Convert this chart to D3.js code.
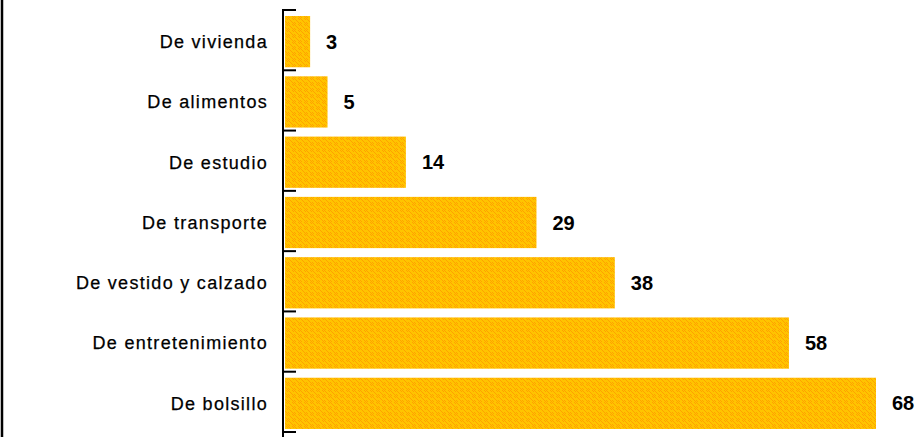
<!DOCTYPE html>
<html>
<head>
<meta charset="utf-8">
<script src="https://cdn.jsdelivr.net/npm/d3@7"></script>
<style>
  body { margin: 0; background: #fff; }
  svg { display: block; }
  .cat { font-family: "Liberation Sans", Arial, sans-serif; font-size: 18px; letter-spacing: 1.3px; fill: #000; stroke: #000; stroke-width: 0.25px; }
  .val { font-family: "Liberation Sans", Arial, sans-serif; font-size: 20px; font-weight: bold; fill: #000; }
</style>
</head>
<body>
<div id="chart"></div>
<script>
// gastos, in the order they appear top to bottom
var categories = ["De vivienda", "De alimentos", "De estudio", "De transporte",
                  "De vestido y calzado", "De entretenimiento", "De bolsillo"];
var values = [3, 5, 14, 29, 38, 58, 68];

var width = 919, height = 437;

var svg = d3.select('#chart').append('svg')
  .attr('width', width)
  .attr('height', height);

// dithered yellow/orange fill like the original gif
var pat = svg.append('defs').append('pattern')
  .attr('id', 'dither')
  .attr('width', 6)
  .attr('height', 6)
  .attr('patternUnits', 'userSpaceOnUse');
pat.append('rect').attr('width', 6).attr('height', 6).attr('fill', '#ffc400');
[[0,0],[2,2],[4,0],[0,4],[4,4],[3,3],[1,1],[5,5],[1,5],[5,1]].forEach(function(p) {
  pat.append('rect').attr('x', p[0]).attr('y', p[1]).attr('width', 1).attr('height', 1).attr('fill', '#ffa200');
});

var x = d3.scaleLinear()
  .domain([0, d3.max(values)])
  .range([284, 876]);

var y = d3.scaleBand()
  .domain(categories)
  .range([10, 432])
  .paddingInner(0.15)
  .paddingOuter(0.075);

var data = categories.map(function(c, i) { return { cat: c, v: values[i] }; });

// left frame line
svg.append('line')
  .attr('x1', 2).attr('x2', 2)
  .attr('y1', 0).attr('y2', height)
  .attr('stroke', '#000')
  .attr('stroke-width', 2.5);

svg.selectAll('rect.bar')
  .data(data)
  .enter().append('rect')
  .attr('class', 'bar')
  .attr('x', x(0) + 1)
  .attr('y', function(d) { return y(d.cat) + 1.5; })
  .attr('width', function(d) { return x(d.v) - x(0) - 1; })
  .attr('height', y.bandwidth())
  .attr('fill', 'url(#dither)');

// axis line with ticks between the categories, pointing inward
var axisX = 283;
svg.append('line')
  .attr('x1', axisX).attr('x2', axisX)
  .attr('y1', 10).attr('y2', height)
  .attr('stroke', '#000')
  .attr('stroke-width', 2);

var bounds = categories.map(function(c) { return y(c) - y.step() * y.paddingInner() / 2; });
bounds.push(y.range()[1]);
svg.selectAll('line.tick')
  .data(bounds)
  .enter().append('line')
  .attr('class', 'tick')
  .attr('x1', axisX - 1).attr('x2', axisX + 13)
  .attr('y1', function(d) { return d; })
  .attr('y2', function(d) { return d; })
  .attr('stroke', '#000')
  .attr('stroke-width', 2);

svg.selectAll('text.cat')
  .data(data)
  .enter().append('text')
  .attr('class', 'cat')
  .attr('x', 268)
  .attr('y', function(d) { return y(d.cat) + y.bandwidth() / 2 + 1.5; })
  .attr('dy', '0.35em')
  .attr('text-anchor', 'end')
  .text(function(d) { return d.cat; });

svg.selectAll('text.val')
  .data(data)
  .enter().append('text')
  .attr('class', 'val')
  .attr('x', function(d) { return x(d.v) + 16; })
  .attr('y', function(d) { return y(d.cat) + y.bandwidth() / 2 + 1.5; })
  .attr('dy', '0.35em')
  .text(function(d) { return d.v; });
</script>
</body>
</html>
